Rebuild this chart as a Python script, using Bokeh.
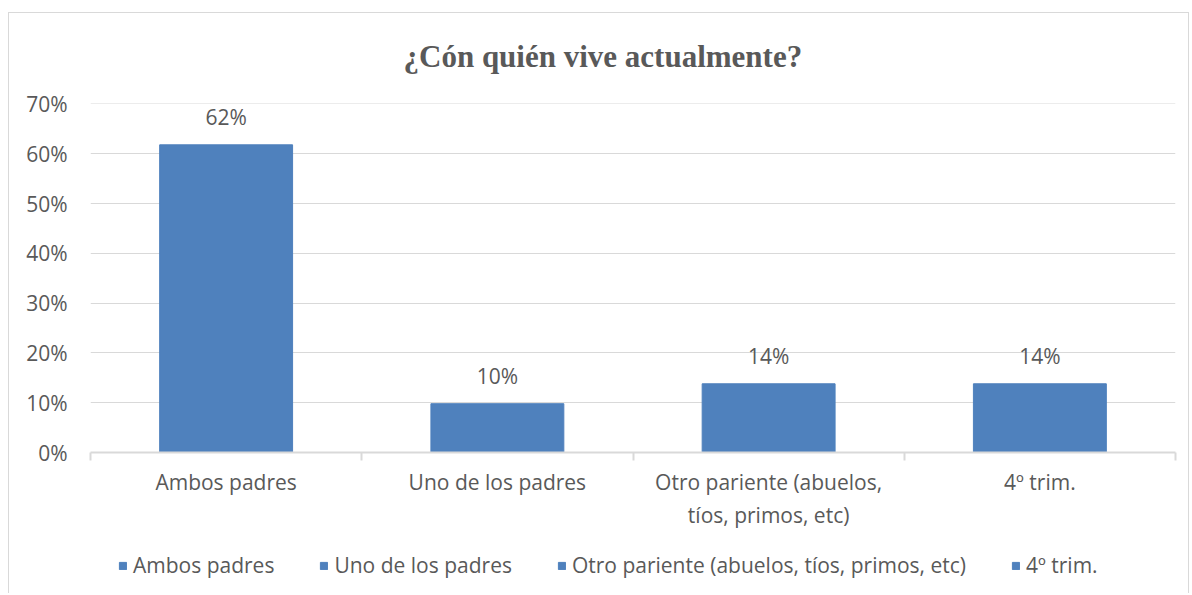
from bokeh.plotting import figure
from bokeh.models import (ColumnDataSource, Range1d, FixedTicker, NumeralTickFormatter,
                          Legend, LegendItem, LabelSet)
from bokeh.layouts import column
from bokeh.core.properties import value
from bokeh.embed import file_html
from bokeh.resources import INLINE

title_text = "¿Cón quién vive actualmente?"
categories = ["Ambos padres", "Uno de los padres",
              "Otro pariente (abuelos, tíos, primos, etc)", "4º trim."]
axis_labels = ["Ambos padres", "Uno de los padres",
               "Otro pariente (abuelos,\ntíos, primos, etc)", "4º trim."]
values = [0.618, 0.098, 0.138, 0.138]
y_ticks = [0.0, 0.1, 0.2, 0.3, 0.4, 0.5, 0.6, 0.7]

BAR = "#4F81BD"
TXT = "#595959"
GRID = "#D9D9D9"
FONT = "Open Sans"

xs = [i + 0.5 for i in range(len(categories))]
src = ColumnDataSource(dict(
    x=xs, top=values, cat=categories,
    lab=["{:.0f}%".format(v * 100) for v in values],
))

line = "linear-gradient(#D9D9D9,#D9D9D9)"
frame_styles = {
    "background-color": "white",
    "background-image": ", ".join([line] * 3),
    "background-size": "1181px 1px, 1px 100%, 1px 100%",
    "background-position": "8px 12px, 8px 12px, 1188px 12px",
    "background-repeat": "no-repeat",
}

p = figure(width=1190, height=540, output_backend="svg", toolbar_location=None,
           x_range=Range1d(0, len(categories)), y_range=Range1d(y_ticks[0], 0.701),
           min_border_left=90, min_border_right=15, min_border_top=103,
           min_border_bottom=88)
p.outline_line_color = None
p.border_fill_color = None
p.background_fill_color = None

p.title.text = title_text
p.title.text_font = "Liberation Serif"
p.title.text_font_style = "bold"
p.title.text_font_size = "31px"
p.title.text_color = TXT
p.title.align = "left"
p.title.offset = 313
p.title.standoff = 60

r = p.vbar(x="x", top="top", width=0.49, source=src, fill_color=BAR, line_color=BAR)

labels = LabelSet(x="x", y="top", text="lab", source=src, text_align="center",
                  text_baseline="bottom", y_offset=14, text_font=value(FONT),
                  text_font_size=value("21px"), text_color=TXT)
p.add_layout(labels)

# y axis
p.yaxis.ticker = FixedTicker(ticks=y_ticks)
p.yaxis.formatter = NumeralTickFormatter(format="0%")
p.yaxis.axis_line_color = None
p.yaxis.major_tick_line_color = None
p.yaxis.minor_tick_line_color = None
p.yaxis.major_label_text_font = FONT
p.yaxis.major_label_text_font_size = "21px"
p.yaxis.major_label_text_color = TXT
p.yaxis.major_label_standoff = 17
p.ygrid.grid_line_color = GRID
p.ygrid.grid_line_width = 1
p.xgrid.grid_line_color = None

# x axis
p.xaxis.ticker = FixedTicker(ticks=xs, minor_ticks=list(range(len(categories) + 1)))
p.xaxis.major_label_overrides = {x: l for x, l in zip(xs, axis_labels)}
p.xaxis.axis_line_color = GRID
p.xaxis.axis_line_width = 2
p.xaxis.major_tick_line_color = None
p.xaxis.minor_tick_line_color = GRID
p.xaxis.minor_tick_line_width = 2
p.xaxis.minor_tick_out = 8
p.xaxis.minor_tick_in = 0
p.xaxis.major_label_text_font = FONT
p.xaxis.major_label_text_font_size = "21px"
p.xaxis.major_label_text_color = TXT
p.xaxis.major_label_standoff = 7

# legend strip (separate figure below the chart)
lg = figure(width=1190, height=53, output_backend="svg", toolbar_location=None,
            x_range=p.x_range, y_range=Range1d(5, 6),
            min_border_left=90, min_border_right=15, min_border_top=0,
            min_border_bottom=0)
lg.axis.visible = False
lg.grid.visible = False
lg.outline_line_color = None
lg.border_fill_color = None
lg.background_fill_color = None
r2 = lg.vbar(x="x", top="top", width=0.49, source=src, fill_color=BAR, line_color=BAR)

legend = Legend(items=[LegendItem(label=dict(field="cat"), renderers=[r2])],
                orientation="horizontal", location=(28, 14),
                glyph_width=9, glyph_height=9, label_standoff=6, spacing=45,
                label_text_font=FONT, label_text_font_size="21px",
                label_text_color=TXT, border_line_color=None,
                background_fill_alpha=0, margin=0, padding=0)
lg.add_layout(legend)

layout = column(p, lg, spacing=0, styles=frame_styles)

open("out.html", "w").write(file_html(layout, INLINE))
